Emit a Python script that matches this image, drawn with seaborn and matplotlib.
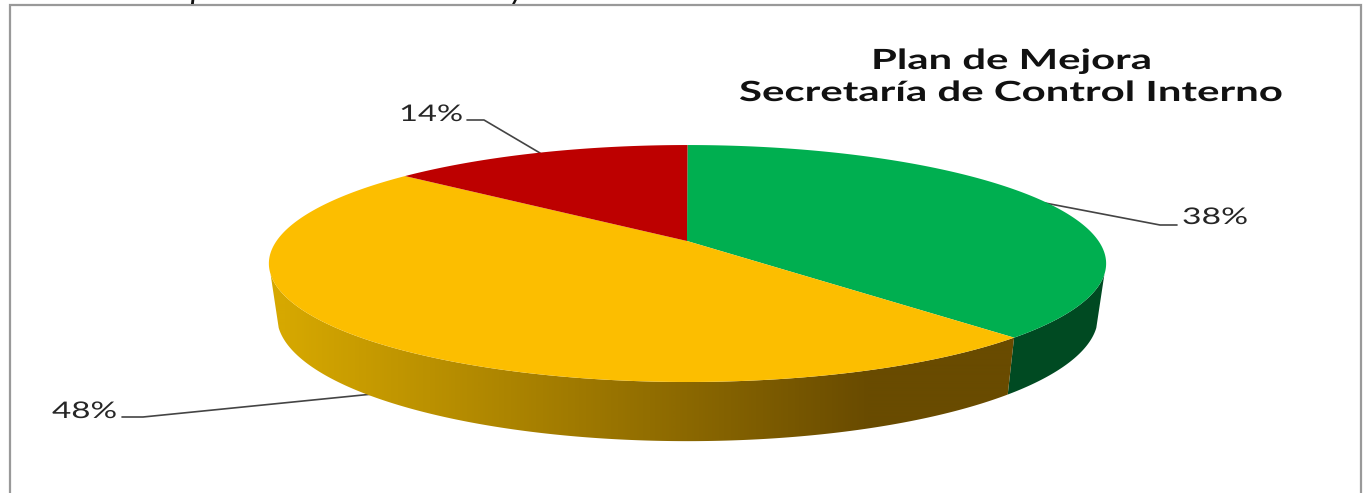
import numpy as np
import pandas as pd
import matplotlib
matplotlib.use("Agg")
import matplotlib.pyplot as plt
import matplotlib.patheffects as pe
from matplotlib.colors import LinearSegmentedColormap
from matplotlib.patches import Polygon
from matplotlib.transforms import Affine2D
import seaborn as sns

# Share of actions per status in the improvement plan
status = ["Verde", "Amarillo", "Rojo"]
shares = [38, 48, 14]
top_colors = ["#00AF50", "#FCBE00", "#BD0000"]
green_side = "#004A22"
gold_light = "#D6A800"
gold_dark = "#694B00"
title_lines = ["Plan de Mejora", "Secretaría de Control Interno"]

data = pd.DataFrame({"status": status, "share": shares, "color": top_colors})

sns.set_theme(style="white")
plt.rcParams["font.family"] = ["Lato", "DejaVu Sans"]

fig = plt.figure(figsize=(13.68, 4.93), dpi=100, facecolor="white")
ax = fig.add_axes([0, 0, 1, 1])
ax.axis("off")


class WideText(pe.AbstractPathEffect):
    """Draws a text widened horizontally from its left end."""

    def __init__(self, factor):
        super().__init__()
        self.factor = factor

    def draw_path(self, renderer, gc, tpath, affine, rgbFace=None):
        renderer.draw_path(gc, tpath, Affine2D().scale(self.factor, 1) + affine, rgbFace)


def wide_text(left, right, baseline, text, size, **kwargs):
    """Places a text so that it runs from left to right in axis units."""
    artist = ax.text(left, baseline, text, ha="left", va="baseline", fontsize=size, **kwargs)
    width = artist.get_window_extent(fig.canvas.get_renderer()).width
    artist.set_path_effects([WideText((right - left) / width)])
    return artist


# Perspective disc: angle is measured clockwise from twelve o'clock
TILT = 0.19


def project(theta, cx, cy, a, b):
    u, v = np.sin(theta), np.cos(theta)
    d = 1 + TILT * v
    return cx + a * u / d, cy - b * v / d


def top_face(theta):
    return project(theta, 687.5, 241, 411, 114.2)


def bottom_face(theta):
    return project(theta, 687.5, 293, 403, 120)


edges = np.radians(np.concatenate([[0], np.cumsum(data["share"])]) * 3.6)

# Visible rim of the disc
rim_start, rim_end = np.radians(106), np.radians(254)
green_t = np.linspace(rim_start, edges[1], 60)
tx, ty = top_face(green_t)
bx, by = bottom_face(green_t)
ax.fill(np.r_[tx, bx[::-1]], np.r_[ty, by[::-1]], color=green_side, lw=0, zorder=3)

# Gold rim with a left-to-right shade, clipped to the rim outline
shade = LinearSegmentedColormap.from_list("rim", [gold_light, gold_dark])
gold_t = np.linspace(edges[1], rim_end, 300)
tx, ty = top_face(gold_t)
bx, by = bottom_face(gold_t)
outline = Polygon(np.c_[np.r_[tx, bx[::-1]], np.r_[ty, by[::-1]]], closed=True,
                  transform=ax.transData, facecolor="none", edgecolor="none")
ax.add_patch(outline)
ramp = np.clip((np.arange(260, 1030) - 283) / (870 - 283), 0, 1)[None, :]
rim_image = ax.imshow(ramp, cmap=shade, vmin=0, vmax=1, aspect="auto",
                      extent=(260, 1030, 450, 250), zorder=3, interpolation="bilinear")
rim_image.set_clip_path(outline)

ax.set_xlim(0, 1368)
ax.set_ylim(493, 0)

# Chart frame, open at the lower edge
ax.plot([10, 10, 1361, 1361], [493, 4.5, 4.5, 493], color="#999999", lw=1.6, zorder=1,
        solid_joinstyle="miter")

# Leader lines run behind the pie
leaders = [
    ([1045, 1160, 1177], [203, 225, 225]),
    ([373, 143, 122], [394, 417, 417]),
    ([540, 484, 467], [153, 120, 120]),
]
for xs, ys in leaders:
    ax.plot(xs, ys, color="#444444", lw=1.2, zorder=2)

# Top face, one slice per status
for i, color in enumerate(data["color"]):
    t = np.linspace(edges[i], edges[i + 1], 240)
    x, y = top_face(t)
    ax.fill(np.r_[687, x], np.r_[241, y], color=color, lw=0, zorder=4)

# Value labels
label_spans = [(1182, 1248, 224), (52, 117, 418), (399, 463, 121)]
for value, (left, right, base) in zip(data["share"], label_spans):
    wide_text(left, right, base, f"{value}%", 16.5, color="#262626", zorder=5)

# Title
wide_text(871, 1152, 69, title_lines[0], 20, fontweight="bold", color="#111111")
wide_text(739, 1283, 101, title_lines[1], 20, fontweight="bold", color="#111111")

# Tails of the caption line cut off by the upper edge
ax.text(196, -0.5, "p", ha="center", va="baseline", fontsize=17, style="italic",
        fontweight="bold", color="#111111", clip_on=False)
ax.text(516, -0.5, "y", ha="center", va="baseline", fontsize=17, style="italic",
        fontweight="bold", color="#111111", clip_on=False)

fig.savefig("out.png", dpi=100, facecolor="white")
